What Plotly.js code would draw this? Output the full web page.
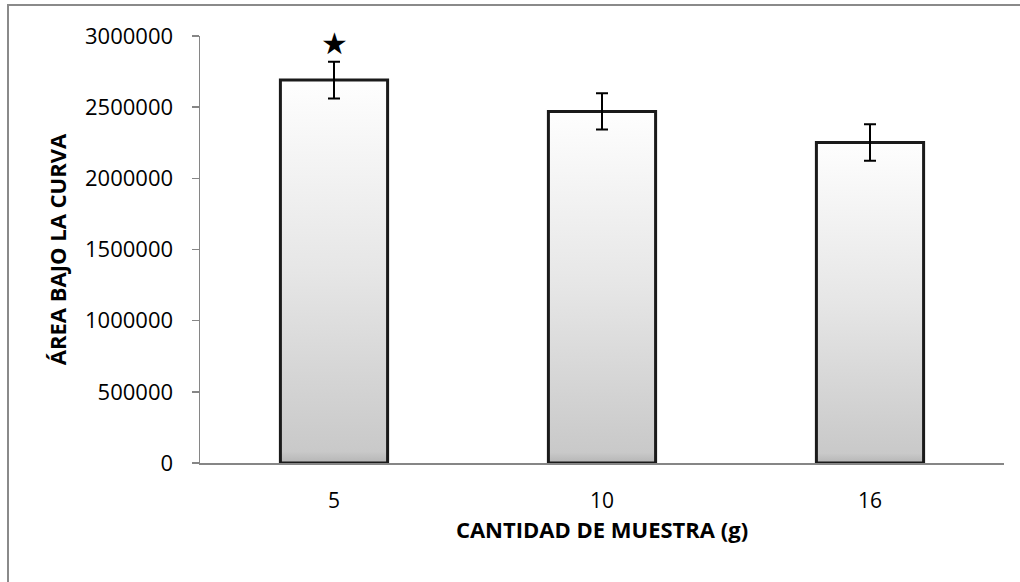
<!DOCTYPE html>
<html>
<head>
<meta charset="utf-8">
<script src="https://cdn.plot.ly/plotly-3.0.1.min.js"></script>
<style>
  html, body { margin: 0; padding: 0; background: #ffffff; }
  #frame { position: absolute; left: 7px; top: 4px; width: 1100px; height: 700px;
           border-left: 2px solid #8a8a8a; border-top: 2px solid #8a8a8a; }
  #chart { position: absolute; left: 0; top: 0; width: 1020px; height: 582px; }
</style>
</head>
<body>
<div id="frame"></div>
<div id="chart"></div>
<script>
const categories = ['5', '10', '16'];
const areaValues = [2690000, 2470000, 2252000];
const areaErrors = [129000, 127000, 128000];
const yTickValues = [0, 500000, 1000000, 1500000, 2000000, 2500000, 3000000];
const starMarkCategory = '5';
const starMarkValue = 2950000;

const trace = {
  type: 'bar',
  x: categories,
  y: areaValues,
  marker: { color: '#e6e6e6', line: { color: '#1a1a1a', width: 3 } },
  error_y: { type: 'data', array: areaErrors, visible: true, color: '#000000', thickness: 2, width: 6 },
  hoverinfo: 'none'
};

const layout = {
  width: 1020, height: 582,
  margin: { l: 200, r: 16, t: 36, b: 119 },
  paper_bgcolor: 'rgba(0,0,0,0)',
  plot_bgcolor: 'rgba(0,0,0,0)',
  bargap: 0.6,
  showlegend: false,
  font: { family: 'Open Sans, sans-serif', color: '#000000' },
  xaxis: {
    type: 'category',
    range: [-0.5, categories.length - 0.5],
    showline: true, linecolor: '#868686', linewidth: 1.5,
    ticks: '', showgrid: false, zeroline: false,
    tickfont: { size: 21, family: 'Open Sans, sans-serif', color: '#000' },
    ticklabelstandoff: 18,
    title: { text: 'CANTIDAD DE MUESTRA (g)', font: { size: 22, family: 'Open Sans, sans-serif', weight: 'bold', color: '#000' }, standoff: 9 }
  },
  yaxis: {
    range: [0, 3000000],
    tickvals: yTickValues,
    tickformat: 'd',
    showline: true, linecolor: '#868686', linewidth: 1.5,
    ticks: 'outside', ticklen: 7, tickcolor: '#868686', tickwidth: 1.5,
    showgrid: false, zeroline: false,
    tickfont: { size: 22, family: 'Open Sans, sans-serif', color: '#000' },
    ticklabelstandoff: 14,
    title: { text: 'ÁREA BAJO LA CURVA', font: { size: 22, family: 'Open Sans, sans-serif', weight: 'bold', color: '#000' }, standoff: 12 }
  },
  annotations: [{
    x: categories.indexOf(starMarkCategory), y: starMarkValue, xref: 'x', yref: 'y',
    text: '★', showarrow: false,
    font: { size: 30, color: '#000', family: 'DejaVu Sans' }
  }]
};

Plotly.newPlot('chart', [trace], layout, { staticPlot: true }).then(function (gd) {
  const svg = gd.querySelector('svg.main-svg');
  const ns = 'http://www.w3.org/2000/svg';
  let defs = svg.querySelector('defs');
  if (!defs) { defs = document.createElementNS(ns, 'defs'); svg.insertBefore(defs, svg.firstChild); }
  const grad = document.createElementNS(ns, 'linearGradient');
  grad.setAttribute('id', 'barGrad');
  grad.setAttribute('x1', '0'); grad.setAttribute('y1', '0');
  grad.setAttribute('x2', '0'); grad.setAttribute('y2', '1');
  [['0', '#fefefe'], ['0.5', '#e6e6e6'], ['0.97', '#c9c9c9'], ['1', '#b5b5b5']].forEach(function (s) {
    const st = document.createElementNS(ns, 'stop');
    st.setAttribute('offset', s[0]);
    st.setAttribute('stop-color', s[1]);
    grad.appendChild(st);
  });
  defs.appendChild(grad);
  gd.querySelectorAll('.barlayer .point path').forEach(function (p) {
    p.style.fill = 'url(#barGrad)';
  });
});
</script>
</body>
</html>
